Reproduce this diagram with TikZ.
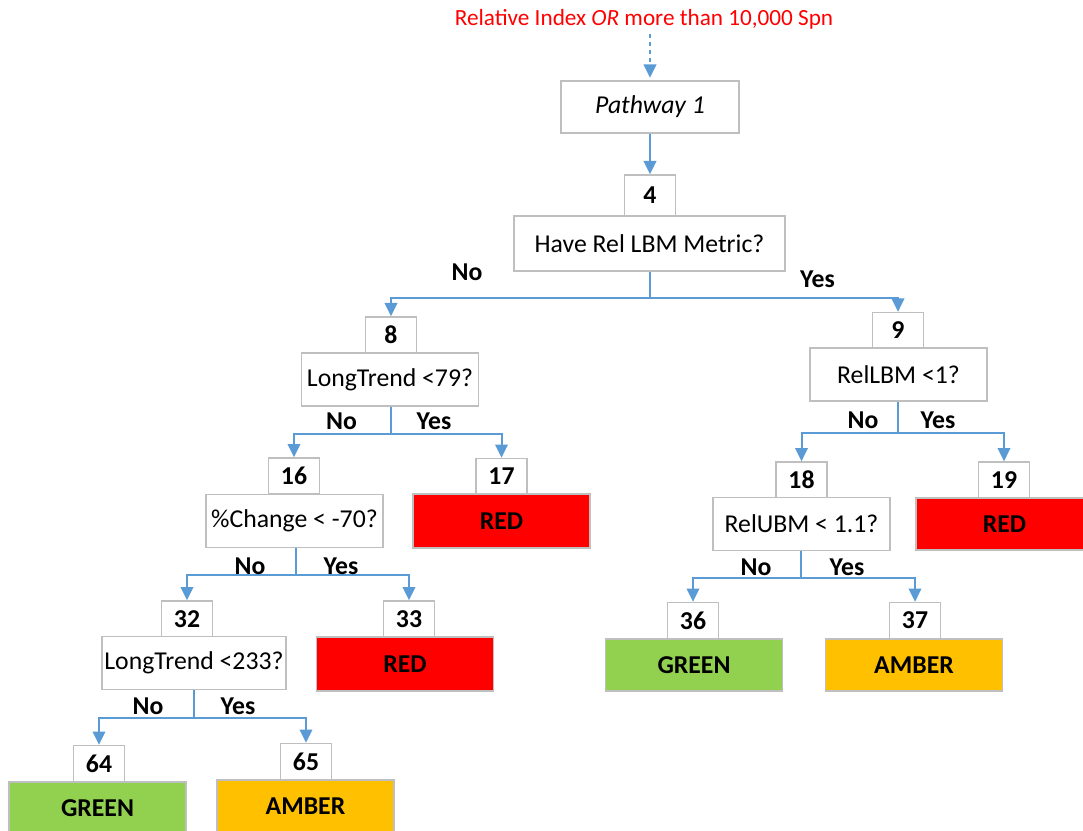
\documentclass[tikz,border=0pt]{standalone}
\usepackage{fontspec}
\setmainfont{Carlito}
\usetikzlibrary{arrows.meta}
\definecolor{linkblue}{RGB}{91,155,213}
\definecolor{edgegrey}{RGB}{191,191,191}
\definecolor{redfill}{RGB}{255,0,0}
\definecolor{greenfill}{RGB}{146,208,80}
\definecolor{amberfill}{RGB}{255,192,0}
\definecolor{titlered}{RGB}{255,0,0}

\begin{document}
\begin{tikzpicture}[x=0.75pt,y=-0.75pt,
  cell/.style 2 args={draw=edgegrey, line width=1pt, fill=white, inner sep=0pt,
    minimum width={#1*0.75pt}, minimum height={#2*0.75pt},
    font=\fontsize{19.3}{23}\selectfont},
  numcell/.style={cell={51}{36}, font=\fontsize{19.3}{23}\selectfont\bfseries},
  qcell/.style={cell={#1}{53}},
  qcell/.default=177,
  leaf/.style 2 args={cell={177}{#2}, fill=#1, font=\fontsize{19.3}{23}\selectfont\bfseries},
  tag/.style={inner sep=0pt, font=\fontsize{19.3}{23}\selectfont\bfseries},
  link/.style={draw=linkblue, line width=1.5pt, -{Triangle[width=9.5pt,length=10pt]}},
]
\useasboundingbox (0,0) rectangle (1083,831);

% entry condition and pathway
\node[inner sep=0pt, text=titlered, font=\fontsize{17.4}{20}\selectfont] (title) at (644,19)
  {Relative Index \textit{OR} more than 10,000 Spn};
\node[cell={178}{52}, font=\fontsize{19.3}{23}\selectfont\itshape] (p1) at (650,107) {Pathway 1};

% node 4
\node[numcell, minimum height=41*0.75pt] (n4) at (650,195.5) {4};
\node[cell={271}{55}] (q4) at (649.5,243.5) {Have Rel LBM Metric?};

% left subtree
\node[numcell] (n8) at (391,335) {8};
\node[qcell] (q8) at (390,379.5) {LongTrend <79?};
\node[numcell] (n16) at (294,476) {16};
\node[qcell] (q16) at (294.5,521) {\%Change < -70?};
\node[numcell] (n17) at (501.5,476.5) {17};
\node[leaf={redfill}{54}] (r17) at (501.5,521) {RED};
\node[numcell] (n32) at (187,619) {32};
\node[qcell=184] (q32) at (194,663) {LongTrend <233?};
\node[numcell] (n33) at (409,619) {33};
\node[leaf={redfill}{54}] (r33) at (405,664) {RED};
\node[numcell] (n64) at (99,763.5) {64};
\node[leaf={greenfill}{52}] (g64) at (97.5,808) {GREEN};
\node[numcell] (n65) at (306,761.5) {65};
\node[leaf={amberfill}{52}] (a65) at (305.5,806) {AMBER};

% right subtree
\node[numcell] (n9) at (898,330.5) {9};
\node[qcell] (q9) at (898.5,374.5) {RelLBM <1?};
\node[numcell] (n18) at (801.5,480) {18};
\node[qcell=177] (q18) at (801.5,524) {RelUBM < 1.1?};
\node[numcell] (n19) at (1004,480) {19};
\node[leaf={redfill}{52}] (r19) at (1004.5,524) {RED};
\node[numcell] (n36) at (693,620.5) {36};
\node[leaf={greenfill}{52}] (g36) at (694,665) {GREEN};
\node[numcell] (n37) at (915,620.5) {37};
\node[leaf={amberfill}{52}] (a37) at (914,665) {AMBER};

% connectors
\draw[link, dashed] (p1.north |- title.south) ++(0,5) -- ([yshift=2pt]p1.north);
\draw[link] (p1.south) -- (n4.north);

\path (q4.south) ++(0,26) coordinate (s4);
\draw[link] (q4.south) -- (s4) -| (n8.north);
\draw[link] (s4) -| (n9.north);

\path (q8.south) ++(1,27) coordinate (s8);
\draw[link] (q8.south -| s8) -- (s8) -| (n16.north);
\draw[link] (s8) -| (n17.north);

\path (q9.south) ++(-0.5,31) coordinate (s9);
\draw[link] (q9.south -| s9) -- (s9) -| (n18.north);
\draw[link] (s9) -| (n19.north);

\path (q16.south) ++(1,27) coordinate (s16);
\draw[link] (q16.south -| s16) -- (s16) -| (n32.north);
\draw[link] (s16) -| (n33.north);

\path (q18.south) ++(-0.5,26.5) coordinate (s18);
\draw[link] (q18.south -| s18) -- (s18) -| (n36.north);
\draw[link] (s18) -| (n37.north);

\path (q32.south) ++(0.3,27.5) coordinate (s32);
\draw[link] (q32.south -| s32) -- (s32) -| (n64.north);
\draw[link] (s32) -| (n65.north);

% branch labels
\node[tag] (no4) at (467,272) {No};
\node[tag] (yes4) at (817.5,279) {Yes};
\node[tag] (no8) at (341.5,421.5) {No};
\node[tag] (yes8) at (434,421.5) {Yes};
\node[tag] (no9) at (863,420) {No};
\node[tag] (yes9) at (938,420) {Yes};
\node[tag] (no16) at (250,566) {No};
\node[tag] (yes16) at (341,566) {Yes};
\node[tag] (no18) at (756,567) {No};
\node[tag] (yes18) at (847,567) {Yes};
\node[tag] (no32) at (148,706) {No};
\node[tag] (yes32) at (238,706) {Yes};
\end{tikzpicture}
\end{document}
